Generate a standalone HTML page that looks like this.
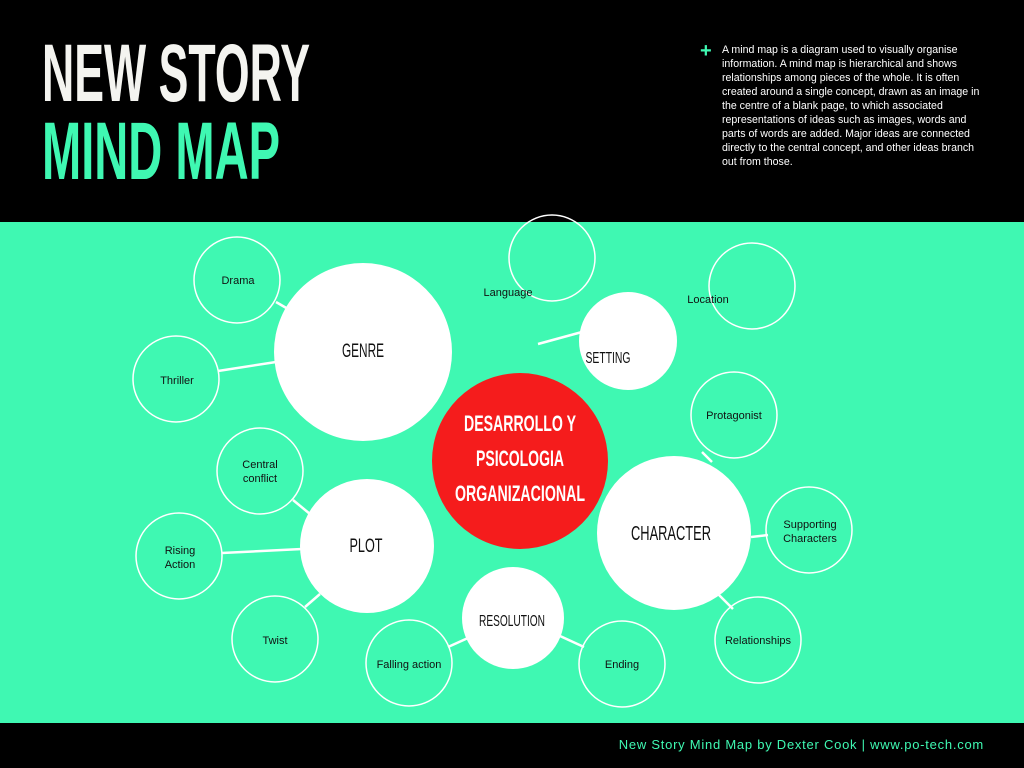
<!DOCTYPE html>
<html><head><meta charset="utf-8"><style>
html,body{margin:0;padding:0;width:1024px;height:768px;overflow:hidden;background:#000}
svg{display:block}
.p{position:absolute;left:722px;top:43px;width:262px;color:#fff;font:10.6px/14px "Liberation Sans",sans-serif}
</style></head><body>
<svg width="1024" height="768" viewBox="0 0 1024 768" xmlns="http://www.w3.org/2000/svg" style="position:absolute;left:0;top:0">
<rect x="0" y="0" width="1024" height="768" fill="#000"/>
<rect x="0" y="222" width="1024" height="501" fill="#3ff8b2"/>
<g font-family="Liberation Sans Narrow, Liberation Sans, sans-serif" font-weight="bold">
<text x="42" y="101" font-size="82" fill="#f4f4f0" textLength="268" lengthAdjust="spacingAndGlyphs">NEW STORY</text>
<text x="42" y="179" font-size="82" fill="#3ff8b2" textLength="238" lengthAdjust="spacingAndGlyphs">MIND MAP</text>
</g>
<text x="700" y="57" font-family="Liberation Sans,sans-serif" font-size="20" font-weight="bold" fill="#3ff8b2">+</text>
<g stroke="#fff" stroke-width="2.5" fill="none">
<line x1="276" y1="302" x2="288" y2="309"/>
<line x1="218" y1="371" x2="276" y2="362"/>
<line x1="538" y1="344" x2="582" y2="332"/>
<line x1="702" y1="452" x2="712" y2="462"/>
<line x1="751" y1="537" x2="768" y2="535"/>
<line x1="718" y1="594" x2="733" y2="609"/>
<line x1="293" y1="500" x2="310" y2="514"/>
<line x1="222" y1="553" x2="302" y2="549"/>
<line x1="305" y1="607" x2="320" y2="594"/>
<line x1="448" y1="647" x2="468" y2="638"/>
<line x1="560" y1="636" x2="584" y2="647"/>
</g>
<g stroke="#fff" stroke-width="1.5" fill="none">
<circle cx="237" cy="280" r="43"/>
<circle cx="176" cy="379" r="43"/>
<circle cx="552" cy="258" r="43"/>
<circle cx="752" cy="286" r="43"/>
<circle cx="734" cy="415" r="43"/>
<circle cx="809" cy="530" r="43"/>
<circle cx="758" cy="640" r="43"/>
<circle cx="260" cy="471" r="43"/>
<circle cx="179" cy="556" r="43"/>
<circle cx="275" cy="639" r="43"/>
<circle cx="409" cy="663" r="43"/>
<circle cx="622" cy="664" r="43"/>
</g>
<g fill="#fff">
<circle cx="363" cy="352" r="89"/>
<circle cx="628" cy="341" r="49"/>
<circle cx="674" cy="533" r="77"/>
<circle cx="367" cy="546" r="67"/>
<circle cx="513" cy="618" r="51"/>
</g>
<circle cx="520" cy="461" r="88" fill="#f51c1c"/>
<g font-family="Liberation Sans,sans-serif" font-size="11" fill="#111" text-anchor="middle">
<text x="238" y="284">Drama</text>
<text x="177" y="384">Thriller</text>
<text x="508" y="296">Language</text>
<text x="708" y="303">Location</text>
<text x="734" y="419">Protagonist</text>
<text x="810" y="528">Supporting</text>
<text x="810" y="542">Characters</text>
<text x="758" y="644">Relationships</text>
<text x="260" y="468">Central</text>
<text x="260" y="482">conflict</text>
<text x="180" y="554">Rising</text>
<text x="180" y="568">Action</text>
<text x="275" y="644">Twist</text>
<text x="409" y="668">Falling action</text>
<text x="622" y="668">Ending</text>
</g>
<g font-family="Liberation Sans Narrow, Liberation Sans, sans-serif" fill="#111" text-anchor="middle">
<text x="363" y="357" font-size="19" textLength="42" lengthAdjust="spacingAndGlyphs">GENRE</text>
<text x="608" y="363" font-size="16" textLength="45" lengthAdjust="spacingAndGlyphs">SETTING</text>
<text x="671" y="540" font-size="20" textLength="80" lengthAdjust="spacingAndGlyphs">CHARACTER</text>
<text x="366" y="552" font-size="19" textLength="33" lengthAdjust="spacingAndGlyphs">PLOT</text>
<text x="512" y="626" font-size="16" textLength="66" lengthAdjust="spacingAndGlyphs">RESOLUTION</text>
</g>
<g font-family="Liberation Sans Narrow, Liberation Sans, sans-serif" font-weight="bold" fill="#fff" text-anchor="middle" font-size="22">
<text x="520" y="431" textLength="112" lengthAdjust="spacingAndGlyphs">DESARROLLO Y</text>
<text x="520" y="466" textLength="88" lengthAdjust="spacingAndGlyphs">PSICOLOGIA</text>
<text x="520" y="501" textLength="130" lengthAdjust="spacingAndGlyphs">ORGANIZACIONAL</text>
</g>
<text x="984" y="749" text-anchor="end" font-family="Liberation Sans,sans-serif" font-size="13" fill="#3ff8b2" letter-spacing="0.75">New Story Mind Map by Dexter Cook | www.po-tech.com</text>
</svg>
<div class="p">A mind map is a diagram used to visually organise information. A mind map is hierarchical and shows relationships among pieces of the whole. It is often created around a single concept, drawn as an image in the centre of a blank page, to which associated representations of ideas such as images, words and parts of words are added. Major ideas are connected directly to the central concept, and other ideas branch out from those.</div>
</body></html>
